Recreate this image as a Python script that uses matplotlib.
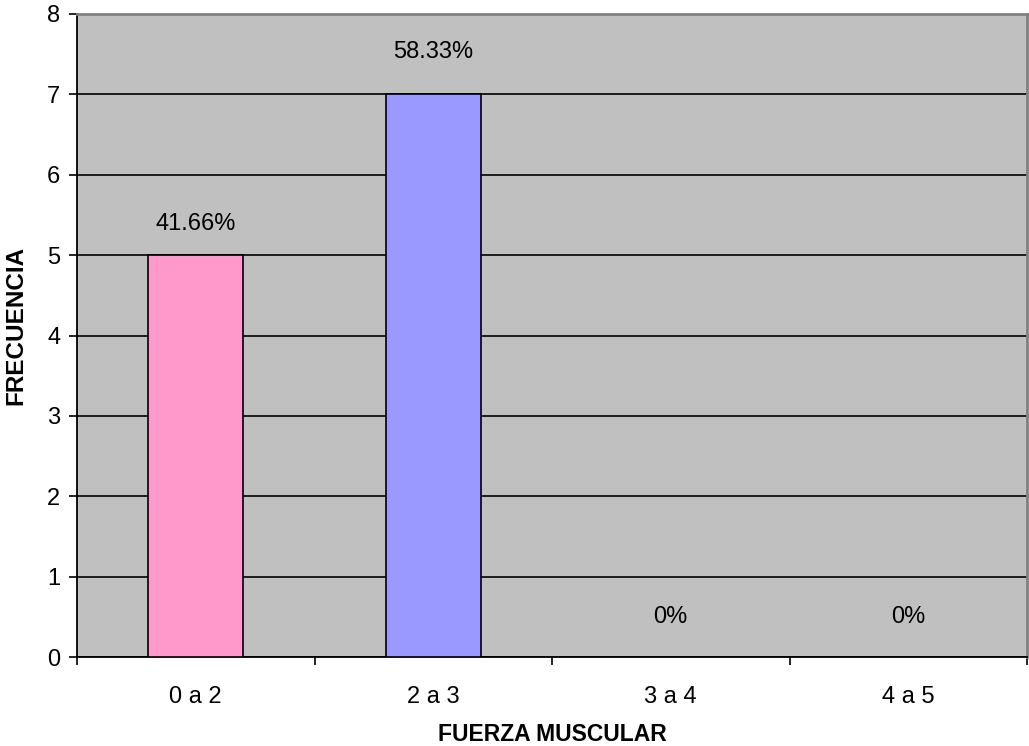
import matplotlib
matplotlib.use("Agg")
import matplotlib.pyplot as plt
import numpy as np

categories = ["0 a 2", "2 a 3", "3 a 4", "4 a 5"]
frecuencia = [5, 7, 0, 0]
porcentajes = ["41.66%", "58.33%", "0%", "0%"]

colors = ["#FF99CC", "#9999FF", "#FF99CC", "#9999FF"]
label_pad = [31, 42, 40, 40]  # px above the bar top

plt.rcParams["font.family"] = ["Liberation Sans", "DejaVu Sans"]

W, H = 1029, 746
fig = plt.figure(figsize=(W / 100, H / 100), dpi=100)
ax = fig.add_axes([77 / W, 89 / H, 950 / W, 643 / H])
ax.set_facecolor("#C0C0C0")

x = np.arange(len(categories))
ax.set_xlim(-0.5, len(categories) - 0.5)
ax.set_ylim(0, 8)
ax.set_yticks(range(0, 9))
ax.yaxis.grid(True, color="black", lw=1.2)
ax.set_axisbelow(True)

for i, (v, c) in enumerate(zip(frecuencia, colors)):
    if v > 0:
        ax.bar(x[i], v, width=0.4, color=c, edgecolor="black", lw=1.2, zorder=3)
    ax.annotate(porcentajes[i], (x[i], v), xytext=(0, label_pad[i] * 0.72),
                textcoords="offset points", ha="center", va="center", fontsize=17)

ax.set_xticks(x)
ax.set_xticklabels(categories, fontsize=17)
ax.set_xticks(np.arange(-0.5, len(categories)), minor=True)
ax.tick_params(axis="x", which="major", length=0, pad=21)
ax.tick_params(axis="x", which="minor", length=6, width=1.2, direction="out")
ax.tick_params(axis="y", length=6, width=1.2, direction="out", labelsize=17, pad=6)

for s in ["left", "bottom"]:
    ax.spines[s].set_color("black")
    ax.spines[s].set_linewidth(1.3)
for s in ["top", "right"]:
    ax.spines[s].set_color("#808080")
    ax.spines[s].set_linewidth(2)

ax.set_xlabel("FUERZA MUSCULAR", fontsize=16.5, fontweight="bold", labelpad=11)
fig.text(16 / W, 1 - 325 / H, "FRECUENCIA", rotation=90, ha="center", va="center",
         fontsize=17.5, fontweight="bold")

fig.savefig("out.png", dpi=100)
